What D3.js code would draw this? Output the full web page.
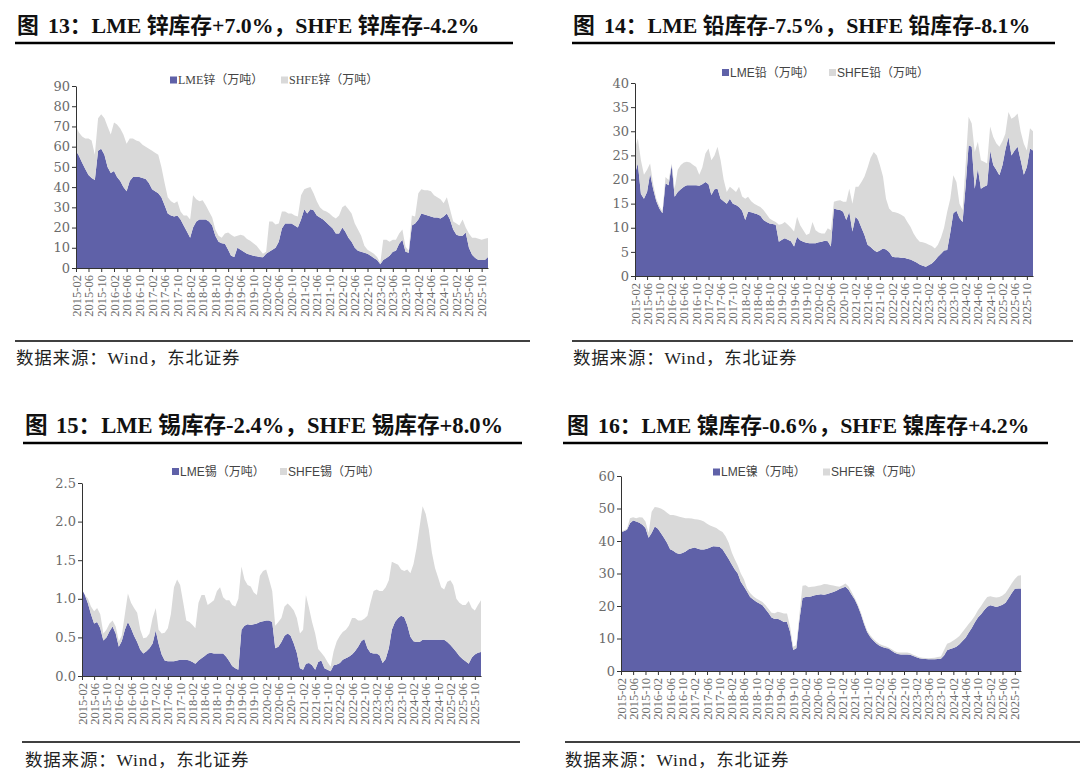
<!DOCTYPE html>
<html>
<head>
<meta charset="utf-8">
<script src="https://cdn.jsdelivr.net/npm/d3@7"></script>
<style>
  body { margin: 0; background: #fff; }
  svg { display: block; }
</style>
</head>
<body>
<svg id="canvas" width="1080" height="784"></svg>
<script>
// monthly categories 2015-02 .. 2025-12, axis labels every 4 months
const months = d3.timeMonth.range(new Date(2015, 1, 1), new Date(2025, 11, 2));
const tickMonths = months.filter(d => d.getMonth() % 4 === 1 && d <= new Date(2025, 9, 1));

const titles = [
  "13：LME 锌库存+7.0%，SHFE 锌库存-4.2%",
  "14：LME 铅库存-7.5%，SHFE 铅库存-8.1%",
  "15：LME 锡库存-2.4%，SHFE 锡库存+8.0%",
  "16：LME 镍库存-0.6%，SHFE 镍库存+4.2%"
];
const legendNames = [
  ["LME锌（万吨）", "SHFE锌（万吨）"],
  ["LME铅（万吨）", "SHFE铅（万吨）"],
  ["LME锡（万吨）", "SHFE锡（万吨）"],
  ["LME镍（万吨）", "SHFE镍（万吨）"]
];
const sourceText = "数据来源：Wind，东北证券";

// 万吨
const zincLME = [
  58, 55.5, 52, 49, 46, 44.5, 43.5, 58, 59, 56,
  50, 47, 48, 45, 43, 40, 38, 43, 45, 45,
  45, 44.5, 44, 42, 39, 38, 37, 35, 31, 27,
  26, 25.5, 26, 24, 21, 18, 15, 20, 23, 24,
  24, 24, 23, 21, 16, 13, 12.3, 12, 9, 6,
  5.5, 10, 9, 8, 7, 6.5, 6, 5.8, 5.5, 5.3,
  7, 8, 9, 10, 13, 19.5, 22, 22, 22, 21,
  20, 24, 29, 27, 29, 28.5, 26, 25, 24, 22.5,
  21, 19.5, 17, 17, 20, 18, 15, 13, 10, 8.5,
  8, 7.5, 7, 6, 5, 4, 1.8, 4, 5, 6,
  8, 8.5, 12, 14, 8, 7.5, 21, 22, 24, 27,
  26.5, 26, 25.5, 25, 25, 24.5, 25.5, 27, 24, 19,
  16.5, 16, 16, 17.5, 10, 6.5, 5, 4, 4, 4,
  5.5
];
const zincSHFE = [
  12, 11.5, 13, 15, 18, 18.5, 12.5, 16, 17, 18,
  20, 19, 24, 26, 26, 26, 23.5, 21, 19, 18,
  17.5, 16.5, 16, 17, 19, 19, 19, 15, 11, 8,
  7, 6.5, 7, 4, 5, 8, 9, 16, 11, 9,
  9.5, 7, 5, 4, 3, 3, 2.7, 5, 8.5, 10.5,
  10, 6, 7.5, 8, 7.3, 7, 6.3, 5.2, 3.5, 1.7,
  1, 15, 14, 11.5, 9, 8.5, 6, 5, 5, 5,
  5.5, 12, 10, 12.5, 11, 8.5, 7, 5, 4.5, 5.5,
  6, 6, 7.5, 9, 10, 13, 14, 14, 12, 10.5,
  8, 3.5, 2, 2, 2, 1.5, 0.7, 10, 9, 7,
  6, 5.5, 5, 5, 2.5, 1, 5, 3.5, 13, 12,
  12, 12.5, 12.5, 11, 10, 9.5, 6.5, 8, 5, 4,
  5.5, 5, 8, 2.5, 7, 8.5, 10, 10.5, 10, 10.5,
  9.3
];

const leadLME = [
  21.2, 23.3, 17, 16, 17.4, 21.2, 18, 15.5, 14, 13,
  19.2, 18.8, 23, 16.4, 17.4, 18, 18.5, 18.8, 18.8, 18.8,
  18.8, 18.7, 19, 19.5, 19, 16.8, 18, 18.1, 16, 15.5,
  15, 16, 15, 14.7, 14.3, 13.5, 11.6, 13.3, 13.2, 13,
  12.8, 12.5, 11.6, 11.2, 10.9, 10.8, 10.6, 7.1, 7.5, 7.8,
  7.5, 7.2, 6.1, 8.1, 7.4, 7.1, 6.9, 6.8, 6.8, 6.8,
  7, 7.1, 7.3, 7.2, 6.1, 14, 13.8, 13.7, 13.3, 11.6,
  13.3, 9.2, 12.3, 11.6, 10, 8.5, 6.5, 6, 5.4, 5,
  5.3, 5.7, 5.5, 5, 4, 3.9, 3.9, 3.8, 3.8, 3.6,
  3.4, 3.1, 2.8, 2.4, 2.1, 1.9, 2.3, 2.6, 3.2, 4,
  4.6, 5.3, 5.4, 9, 13, 13.5, 12, 11.2, 18.8, 27.1,
  26.8, 18.1, 22.3, 18.1, 18.5, 18.8, 26, 23, 22, 20.9,
  23, 26.1, 28.8, 25, 26, 26.8, 24, 21, 22.6, 26.4,
  26
];
const leadSHFE = [
  5.2, 5.2, 7, 5, 4.6, 2.1, 1, 0.5, 0.5, 0.3,
  1.3, 1.1, 0.3, 1.7, 4.6, 5, 5, 4.9, 4.7, 4.2,
  3.8, 2.3, 3.5, 5.9, 7.4, 7.2, 7, 8.7, 8, 4.5,
  2.4, 2.5, 3, 2.7, 4.2, 3, 4.4, 3.1, 2.3, 2,
  1.8, 1.8, 2.1, 1.6, 1, 0.7, 0.6, 3.5, 3.3, 3.4,
  3.1, 2.8, 3.1, 4.2, 3.1, 2.4, 1.6, 2, 4.4, 2.7,
  2, 1.7, 1.5, 2.7, 3.4, 1.4, 1.8, 2, 2.1, 3.8,
  4.8, 5.8, 6.2, 6.9, 9.5, 12.1, 16, 18.5, 20.3, 20,
  17.7, 14.9, 10.5, 9, 9.3, 9.3, 9.1, 8.9, 8.5, 7.6,
  6.8, 5.7, 5, 4.7, 4.9, 4.9, 4.2, 3.6, 2.5, 2.5,
  3.4, 4.7, 7.9, 7, 7.9, 6, 3, 2.5, 4.5, 5.9,
  4.8, 7.6, 5.5, 5.9, 5.2, 4.5, 5, 5.8, 5.5, 5.9,
  5, 3.4, 5.2, 7.6, 7, 6.9, 5.9, 6.4, 3.4, 4.2,
  4
];

const tinLME = [
  1.12, 1.05, 0.94, 0.8, 0.68, 0.7, 0.62, 0.46, 0.5, 0.58,
  0.64, 0.55, 0.38, 0.45, 0.6, 0.7, 0.62, 0.52, 0.44, 0.34,
  0.29, 0.32, 0.36, 0.42, 0.59, 0.42, 0.28, 0.2, 0.19, 0.19,
  0.19, 0.2, 0.21, 0.21, 0.21, 0.2, 0.18, 0.16, 0.2, 0.23,
  0.26, 0.29, 0.3, 0.29, 0.29, 0.29, 0.29, 0.25, 0.19, 0.13,
  0.1, 0.08, 0.6, 0.65, 0.67, 0.66, 0.67, 0.68, 0.7, 0.71,
  0.72, 0.72, 0.7, 0.36, 0.38, 0.44, 0.52, 0.55, 0.52, 0.42,
  0.3, 0.1, 0.08, 0.16, 0.17, 0.14, 0.08, 0.18, 0.2, 0.1,
  0.08, 0.06, 0.14, 0.15, 0.17, 0.21, 0.23, 0.25, 0.28, 0.32,
  0.38, 0.45, 0.48, 0.36, 0.3, 0.29, 0.29, 0.27, 0.17, 0.22,
  0.36, 0.6, 0.7, 0.75, 0.78, 0.76, 0.66, 0.51, 0.45, 0.44,
  0.44, 0.47, 0.47, 0.47, 0.47, 0.47, 0.47, 0.47, 0.47, 0.44,
  0.4, 0.36, 0.31, 0.26, 0.22, 0.19, 0.16, 0.24, 0.28, 0.3,
  0.31
];
const tinSHFE = [
  0, 0, 0.06, 0.1, 0.16, 0.18, 0.18, 0.09, 0.1, 0.1,
  0.08, 0.09, 0.07, 0.07, 0.2, 0.37, 0.33, 0.36, 0.38, 0.26,
  0.2, 0.18, 0.19, 0.33, 0.29, 0.18, 0.27, 0.36, 0.43, 0.61,
  0.96, 1.05, 0.97, 0.74, 0.51, 0.5, 0.48, 0.46, 0.75, 0.82,
  0.79, 0.63, 0.65, 0.69, 0.81, 0.86, 0.73, 0.73, 0.79, 0.79,
  0.8, 0.92, 0.82, 0.6, 0.51, 0.5, 0.41, 0.37, 0.6, 0.65,
  0.66, 0.53, 0.4, 0.29, 0.32, 0.31, 0.38, 0.39, 0.38, 0.43,
  0.45, 0.45, 0.52, 0.89, 0.71, 0.56, 0.47, 0.17, 0.1, 0.15,
  0.1, 0.06, 0.18, 0.3, 0.35, 0.36, 0.37, 0.4, 0.47, 0.43,
  0.34, 0.27, 0.26, 0.42, 0.65, 0.81, 0.83, 0.83, 0.93, 0.93,
  0.88, 0.88, 0.76, 0.69, 0.6, 0.6, 0.72, 0.82, 1.0, 1.21,
  1.49, 1.73, 1.63, 1.43, 1.13, 0.93, 0.81, 0.68, 0.65, 0.78,
  0.84, 0.82, 0.69, 0.69, 0.7, 0.73, 0.81, 0.64, 0.57, 0.62,
  0.67
];

const nickelLME = [
  42.8, 43, 43.5, 45.5, 46.3, 46, 45.6, 45, 44, 41,
  42.5, 44.5, 43.8, 42.5, 41, 39.5, 37.5, 37, 36.3, 36,
  36.3, 36.8, 37.5, 37.8, 38, 37.6, 37.4, 37.4, 37.6, 38,
  38.4, 38.3, 38.2, 37.5, 36, 34.5, 32.8, 31.3, 30, 27.5,
  26, 24.5, 22.8, 22, 21.3, 20.8, 20.2, 19, 17.8, 16.5,
  16, 16.1, 15.6, 15.1, 15.1, 12, 6.5, 7, 15.6, 22.5,
  22.8, 22.8, 23, 23.3, 23.5, 23.6, 23.5, 23.7, 24, 24.3,
  24.7, 25.2, 25.6, 25.9, 25, 23.5, 22, 20, 17.5, 14.5,
  12, 10.5, 9.4, 8.5, 7.8, 7.4, 7.1, 6.9, 6.2, 5.6,
  5.2, 5.1, 5.1, 5.1, 5, 4.6, 4.2, 3.9, 3.8, 3.7,
  3.6, 3.6, 3.6, 3.7, 3.8, 4.8, 6.4, 6.8, 7.1, 7.5,
  8.2, 9.2, 10.2, 11.8, 13.2, 15, 16.5, 17.5, 18.7, 19.8,
  20.2, 20, 19.7, 20, 20.4, 21, 22.5, 24, 25.3, 25.4,
  25.4
];
const nickelSHFE = [
  0.2, 0.2, 0.3, 1.5, 1, 1, 1.7, 2.2, 2, 1.5,
  6.5, 6, 6.5, 7.5, 8.5, 9.2, 10.5, 11, 11.5, 11.5,
  10.9, 10.2, 9.5, 9.1, 8.7, 9, 9, 8.6, 7.7, 6.8,
  6, 5.7, 5.1, 5.3, 5.5, 5, 3.7, 3.2, 2.5, 2.5,
  2.2, 1, 1.2, 1, 1, 1, 1, 1.2, 1.2, 1.4,
  1.8, 2.1, 2.4, 2.6, 2.6, 1.5, 1, 1, 1.6, 3.7,
  3.6, 3, 2.9, 2.7, 2.7, 2.8, 3.3, 3, 2.5, 2,
  1.4, 0.7, 0.8, 1, 1, 0.8, 0.5, 0.5, 0.5, 0.5,
  0.5, 0.5, 0.5, 0.5, 0.5, 0.5, 0.5, 0.3, 0.5, 0.5,
  0.5, 0.6, 0.6, 0.6, 0.5, 0.4, 0.4, 0.3, 0.3, 0.3,
  0.3, 0.4, 0.5, 0.6, 0.7, 1.7, 2, 2, 2.3, 2.5,
  2.6, 2.8, 3, 2.7, 2.4, 2, 2.2, 2.5, 2.8, 3,
  2.8, 2.8, 2.9, 2.8, 2.8, 3, 3, 3, 3, 3.9,
  4.1
];

const yMax = [90, 40, 2.5, 60];
const yStep = [10, 5, 0.5, 10];

const colors = ["#5f61a8", "#d9d9d9"];
const serif = "'Liberation Serif', 'Noto Sans CJK SC', serif";
const sans = "'Liberation Sans', 'Noto Sans CJK SC', sans-serif";

// layout of the four panels
const panels = [
  { lme: zincLME, shfe: zincSHFE, fig: 0, fmt: d3.format("d"),
    tx: 17, ty: 25, titleSize: 21.8, titleRule: [15, 513, 43],
    left: 76, right: 488, top: 86, bottom: 268,
    legX: [170, 281], legY: 80, legFont: serif,
    src: [16, 358], srcRule: [15, 530, 341] },
  { lme: leadLME, shfe: leadSHFE, fig: 1, fmt: d3.format("d"),
    tx: 573, ty: 25, titleSize: 21.8, titleRule: [572, 1055, 43],
    left: 635, right: 1033, top: 83, bottom: 276,
    legX: [722, 829], legY: 72.5, legFont: sans,
    src: [573, 358], srcRule: [572, 1073, 341] },
  { lme: tinLME, shfe: tinSHFE, fig: 2, fmt: d3.format(".1f"),
    tx: 25, ty: 425, titleSize: 22.6, titleRule: [23, 522, 443],
    left: 82, right: 481, top: 483, bottom: 676,
    legX: [172, 280], legY: 471.5, legFont: sans,
    src: [25, 760], srcRule: [22, 520, 742] },
  { lme: nickelLME, shfe: nickelSHFE, fig: 3, fmt: d3.format("d"),
    tx: 567, ty: 425, titleSize: 21.8, titleRule: [563, 1048, 443],
    left: 621, right: 1021, top: 476, bottom: 671,
    legX: [713, 823], legY: 472, legFont: sans,
    src: [565, 760], srcRule: [565, 1080, 742] }
];

const svg = d3.select("#canvas");

function drawPanel(p) {
  const g = svg.append("g");
  const i = p.fig;

  // title
  const title = g.append("text")
    .attr("x", p.tx).attr("y", p.ty).attr("dy", "0.35em")
    .attr("font-family", serif).attr("font-weight", "bold")
    .attr("font-size", p.titleSize).attr("fill", "#111");
  title.append("tspan").text("图");
  title.append("tspan").attr("x", p.tx + 31).text(titles[i]);

  g.append("line")
    .attr("x1", p.titleRule[0]).attr("x2", p.titleRule[1])
    .attr("y1", p.titleRule[2]).attr("y2", p.titleRule[2])
    .attr("stroke", "#000").attr("stroke-width", 2.6);

  // scales
  const x = d3.scaleTime()
    .domain([months[0], months[months.length - 1]])
    .range([p.left, p.right]);
  const y = d3.scaleLinear().domain([0, yMax[i]]).range([p.bottom, p.top]);

  const rows = months.map((d, k) => ({ date: d, lme: p.lme[k], shfe: p.shfe[k] }));
  const series = d3.stack().keys(["lme", "shfe"])(rows);
  const area = d3.area()
    .x(d => x(d.data.date))
    .y0(d => y(d[0]))
    .y1(d => y(d[1]));

  g.selectAll("path.band")
    .data(series)
    .join("path")
    .attr("class", "band")
    .attr("fill", (d, k) => colors[k])
    .attr("d", area);

  // y axis
  const yAxis = d3.axisLeft(y)
    .tickValues(d3.range(0, yMax[i] + yStep[i] / 2, yStep[i]))
    .tickFormat(p.fmt)
    .tickSize(4)
    .tickSizeOuter(0);
  const ya = g.append("g").attr("transform", `translate(${p.left},0)`).call(yAxis);
  ya.select(".domain").attr("stroke", "#333");
  ya.selectAll(".tick line").attr("stroke", "#333");
  ya.selectAll("text")
    .attr("font-family", "'DejaVu Serif', serif")
    .attr("font-size", 13)
    .attr("fill", "#6b6b6b")
    .attr("x", -6);

  // x axis
  const xAxis = d3.axisBottom(x)
    .tickValues(tickMonths)
    .tickFormat(d3.timeFormat("%Y-%m"))
    .tickSize(4)
    .tickSizeOuter(0);
  const xa = g.append("g").attr("transform", `translate(0,${p.bottom})`).call(xAxis);
  xa.select(".domain").attr("stroke", "#333");
  xa.selectAll(".tick line").attr("stroke", "#333");
  xa.selectAll("text")
    .attr("transform", "rotate(-90)")
    .attr("x", -7).attr("y", 0).attr("dy", "0.32em")
    .attr("text-anchor", "end")
    .attr("font-family", serif)
    .attr("font-size", 12.5)
    .attr("fill", "#6b6b6b");

  // legend
  legendNames[i].forEach((name, k) => {
    g.append("rect")
      .attr("x", p.legX[k]).attr("y", p.legY - 3.5)
      .attr("width", 7).attr("height", 7)
      .attr("fill", colors[k]);
    g.append("text")
      .attr("x", p.legX[k] + 8).attr("y", p.legY).attr("dy", "0.35em")
      .attr("font-family", p.legFont).attr("font-size", 12)
      .attr("fill", "#444")
      .text(name);
  });

  // source
  g.append("line")
    .attr("x1", p.srcRule[0]).attr("x2", p.srcRule[1])
    .attr("y1", p.srcRule[2]).attr("y2", p.srcRule[2])
    .attr("stroke", "#000").attr("stroke-width", 1.5);
  g.append("text")
    .attr("x", p.src[0]).attr("y", p.src[1]).attr("dy", "0.35em")
    .attr("font-family", serif).attr("font-size", 17.5)
    .attr("letter-spacing", 0.8)
    .attr("fill", "#222")
    .text(sourceText);
}

panels.forEach(drawPanel);
</script>
</body>
</html>
